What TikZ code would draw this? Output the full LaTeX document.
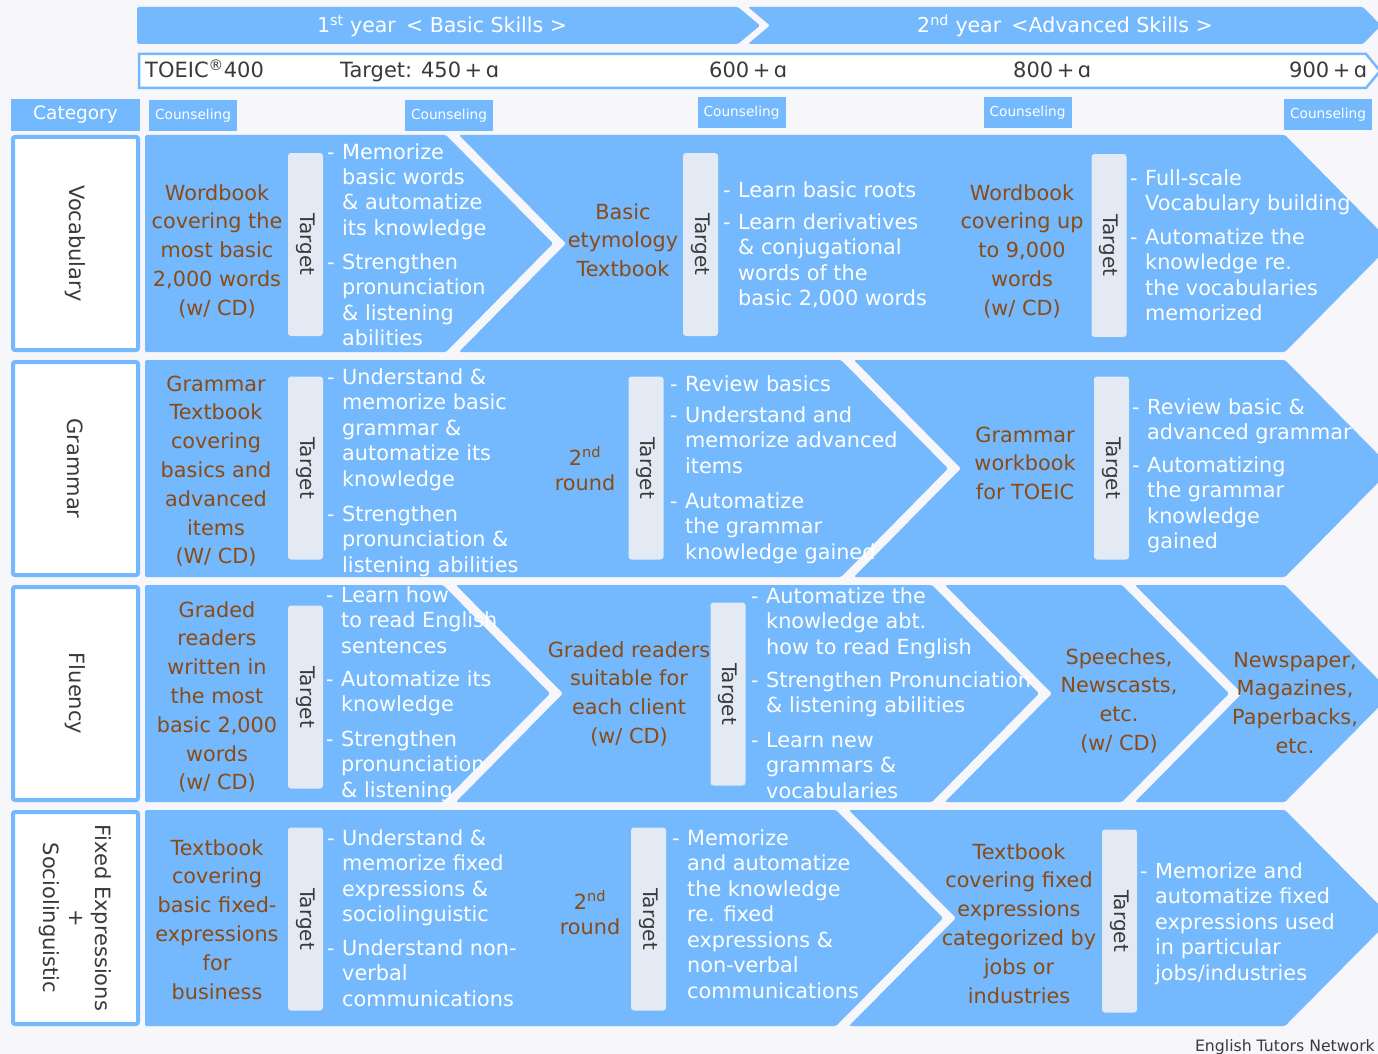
\documentclass[tikz,border=0pt]{standalone}
\usepackage{fontspec}
\setmainfont{DejaVu Sans}
\newfontfamily\dejavu{DejaVu Sans}
\definecolor{bgc}{HTML}{F7F6FA}
\definecolor{blc}{HTML}{74B9FD}
\definecolor{tgc}{HTML}{E3EAF4}
\definecolor{brc}{HTML}{8C4A14}
\definecolor{dkc}{HTML}{3A3A3A}
\newcommand\WL[1]{\begin{tabular}[t]{@{}l@{}}#1\end{tabular}}
\newcommand\BC[1]{\begin{tabular}[t]{@{}c@{}}#1\end{tabular}}
\tikzset{
 wt/.style={text=white, font=\fontsize{20.8}{25.5}\selectfont, inner sep=0, anchor=base west},
 bt/.style={text=brc, font=\fontsize{20.8}{28.8}\selectfont, inner sep=0, anchor=base},
 tgt/.style={fill=tgc, rounded corners=3, rotate=-90, inner sep=0, text=dkc, minimum width=183, minimum height=35, font=\dejavu\fontsize{20}{24}\selectfont},
 cat/.style={draw=blc, line width=4, fill=white, rounded corners=2, rotate=-90, inner sep=0, text=dkc, minimum height=125, align=center, font=\dejavu\fontsize{21}{26}\selectfont},
 chev/.style={fill=blc, rounded corners=1.5},
 cns/.style={fill=blc, text=white, font=\fontsize{13.7}{16}\selectfont, inner sep=0, minimum width=88, minimum height=31},
 toe/.style={text=dkc, font=\fontsize{21}{26}\selectfont, inner sep=0, anchor=base west},
 hdr/.style={text=white, font=\fontsize{20.5}{26}\selectfont, inner sep=0, anchor=base},
}
\newcommand\bul[4]{\node[wt] (#1d) at (#2,#3) {-}; \node[wt] (#1) at (#2+15,#3) {\WL{#4}};}
\begin{document}
\begin{tikzpicture}[x=1pt,y=-1pt]
\useasboundingbox (0,0) rectangle (1378,1054);
\clip (0,0) rectangle (1378,1054);
\fill[bgc] (0,0) rectangle (1378,1054);

% header bands
\fill[chev] (137,7)--(738,7)--(760,25.5)--(738,44)--(137,44)--cycle;
\fill[chev] (748,7)--(1363,7)--(1381,25.5)--(1363,44)--(748,44)--(770,25.5)--cycle;
\node[hdr] (y1) at (442,33) {1\textsuperscript{st} year\enspace< Basic Skills >};
\node[hdr] (y2) at (1065,33) {2\textsuperscript{nd} year\enspace<Advanced Skills >};

% TOEIC row
\draw[blc, line width=2.5, fill=white] (139,54)--(1366,54)--(1380,71)--(1366,88)--(139,88)--cycle;
\node[toe] (s0) at (145,78) {TOEIC\textsuperscript{®}400};
\node[toe] (s1) at (340,78) {Target: 450{\,+\,}ɑ};
\node[toe] (s2) at (709,78) {600{\,+\,}ɑ};
\node[toe] (s3) at (1013,78) {800{\,+\,}ɑ};
\node[toe] (s4) at (1289,78) {900{\,+\,}ɑ};

% category + counseling
\node[fill=blc, text=white, inner sep=0, minimum width=129, minimum height=32, font=\fontsize{18.5}{22}\selectfont] (cath) at (75.5,115) {Category};
\node[cns] (c1) at (193,115.5) {Counseling};
\node[cns] (c2) at (449,115.5) {Counseling};
\node[cns] (c3) at (741.5,113) {Counseling};
\node[cns] (c4) at (1027.5,112.5) {Counseling};
\node[cns] (c5) at (1328,115) {Counseling};

% category boxes
\node[cat, minimum width=213] (kv) at (75.5,243.5) {Vocabulary};
\node[cat, minimum width=213] (kg) at (75.5,468.5) {Grammar};
\node[cat, minimum width=213] (kf) at (75.5,693.5) {Fluency};
\node[cat, minimum width=212] (kx) at (75.5,918) {Fixed Expressions\\+\\Sociolinguistic};

% chevrons: vocabulary
\fill[chev] (145,135)--(446,135)--(553,243.5)--(446,352)--(145,352)--cycle;
\fill[chev] (459,135)--(1285,135)--(1392,243.5)--(1285,352)--(459,352)--(566,243.5)--cycle;
% grammar
\fill[chev] (145,360)--(841,360)--(948,468.5)--(841,577)--(145,577)--cycle;
\fill[chev] (854,360)--(1285,360)--(1392,468.5)--(1285,577)--(854,577)--(961,468.5)--cycle;
% fluency
\fill[chev] (145,585)--(443,585)--(550,693.5)--(443,802)--(145,802)--cycle;
\fill[chev] (456,585)--(932,585)--(1039,693.5)--(932,802)--(456,802)--(563,693.5)--cycle;
\fill[chev] (945,585)--(1122,585)--(1229,693.5)--(1122,802)--(945,802)--(1052,693.5)--cycle;
\fill[chev] (1135,585)--(1285,585)--(1392,693.5)--(1285,802)--(1135,802)--(1242,693.5)--cycle;
% fixed expressions
\fill[chev] (145,810)--(836,810)--(943,918)--(836,1026)--(145,1026)--cycle;
\fill[chev] (849,810)--(1285,810)--(1392,918)--(1285,1026)--(849,1026)--(956,918)--cycle;

% target boxes
\node[tgt] (tv1) at (305.5,244.5) {Target};
\node[tgt] (tv2) at (700.5,244.5) {Target};
\node[tgt] (tv3) at (1109,245.5) {Target};
\node[tgt] (tg1) at (305.5,468) {Target};
\node[tgt] (tg2) at (646,468) {Target};
\node[tgt] (tg3) at (1111.5,468) {Target};
\node[tgt] (tf1) at (305.5,697) {Target};
\node[tgt] (tf2) at (728,694) {Target};
\node[tgt] (tx1) at (305.5,919) {Target};
\node[tgt] (tx2) at (648.5,919) {Target};
\node[tgt] (tx3) at (1119.5,921) {Target};

% ---- Vocabulary texts
\node[bt] (bv1) at (217,200) {\BC{Wordbook\\covering the\\most basic\\2,000 words\\(w/ CD)}};
\bul{wv1}{327}{159}{Memorize\\basic words\\\& automatize\\its knowledge}
\bul{wv2}{327}{269}{Strengthen\\pronunciation\\\& listening\\abilities}
\node[bt] (bv2) at (623,219) {\BC{Basic\\etymology\\Textbook}};
\bul{wv3}{723}{197}{Learn basic roots}
\bul{wv4}{723}{229}{Learn derivatives\\\& conjugational\\words of the\\basic 2,000 words}
\node[bt] (bv3) at (1022,200) {\BC{Wordbook\\covering up\\to 9,000\\words\\(w/ CD)}};
\bul{wv5}{1130}{185}{Full-scale\\Vocabulary building}
\bul{wv6}{1130}{244}{Automatize the\\knowledge re.\\the vocabularies\\memorized}

% ---- Grammar texts
\node[bt] (bg1) at (216,391) {\BC{Grammar\\Textbook\\covering\\basics and\\advanced\\items\\(W/ CD)}};
\bul{wg1}{327}{384}{Understand \&\\memorize basic\\grammar \&\\automatize its\\knowledge}
\bul{wg2}{327}{521}{Strengthen\\pronunciation \&\\listening abilities}
\node[bt] (bg2a) at (585,465) {2\textsuperscript{nd}};
\node[bt] (bg2b) at (585,490) {round};
\bul{wg3}{670}{391}{Review basics}
\bul{wg4}{670}{422}{Understand and\\memorize advanced\\items}
\bul{wg5}{670}{508}{Automatize\\the grammar\\knowledge gained}
\node[bt] (bg3) at (1025,442) {\BC{Grammar\\workbook\\for TOEIC}};
\bul{wg6}{1132}{414}{Review basic \&\\advanced grammar}
\bul{wg7}{1132}{472}{Automatizing\\the grammar\\knowledge\\gained}

% ---- Fluency texts
\node[bt] (bf1) at (217,617) {\BC{Graded\\readers\\written in\\the most\\basic 2,000\\words\\(w/ CD)}};
\bul{wf1}{326}{602}{Learn how\\to read English\\sentences}
\bul{wf2}{326}{686}{Automatize its\\knowledge}
\bul{wf3}{326}{746}{Strengthen\\pronunciation\\\& listening}
\node[bt] (bf2) at (629,657) {\BC{Graded readers\\suitable for\\each client\\(w/ CD)}};
\bul{wf4}{751}{603}{Automatize the\\knowledge abt.\\how to read English}
\bul{wf5}{751}{687}{Strengthen Pronunciation\\\& listening abilities}
\bul{wf6}{751}{747}{Learn new\\grammars \&\\vocabularies}
\node[bt] (bf3) at (1119,664) {\BC{Speeches,\\Newscasts,\\etc.\\(w/ CD)}};
\node[bt] (bf4) at (1295,667) {\BC{Newspaper,\\Magazines,\\Paperbacks,\\etc.}};

% ---- Fixed expressions texts
\node[bt] (bx1) at (217,855) {\BC{Textbook\\covering\\basic fixed-\\expressions\\for\\business}};
\bul{wx1}{327}{845}{Understand \&\\memorize fixed\\expressions \&\\sociolinguistic}
\bul{wx2}{327}{955}{Understand non-\\verbal\\communications}
\node[bt] (bx2a) at (590,909) {2\textsuperscript{nd}};
\node[bt] (bx2b) at (590,934) {round};
\bul{wx3}{672}{845}{Memorize\\and automatize\\the knowledge\\re. fixed\\expressions \&\\non-verbal\\communications}
\node[bt] (bx3) at (1019,859) {\BC{Textbook\\covering fixed\\expressions\\categorized by\\jobs or\\industries}};
\bul{wx4}{1140}{878}{Memorize and\\automatize fixed\\expressions used\\in particular\\jobs/industries}

% footer
\node[text=dkc, font=\dejavu\fontsize{15.7}{19}\selectfont, inner sep=0, anchor=base east] (foot) at (1375,1051) {English Tutors Network};
\end{tikzpicture}
\end{document}
